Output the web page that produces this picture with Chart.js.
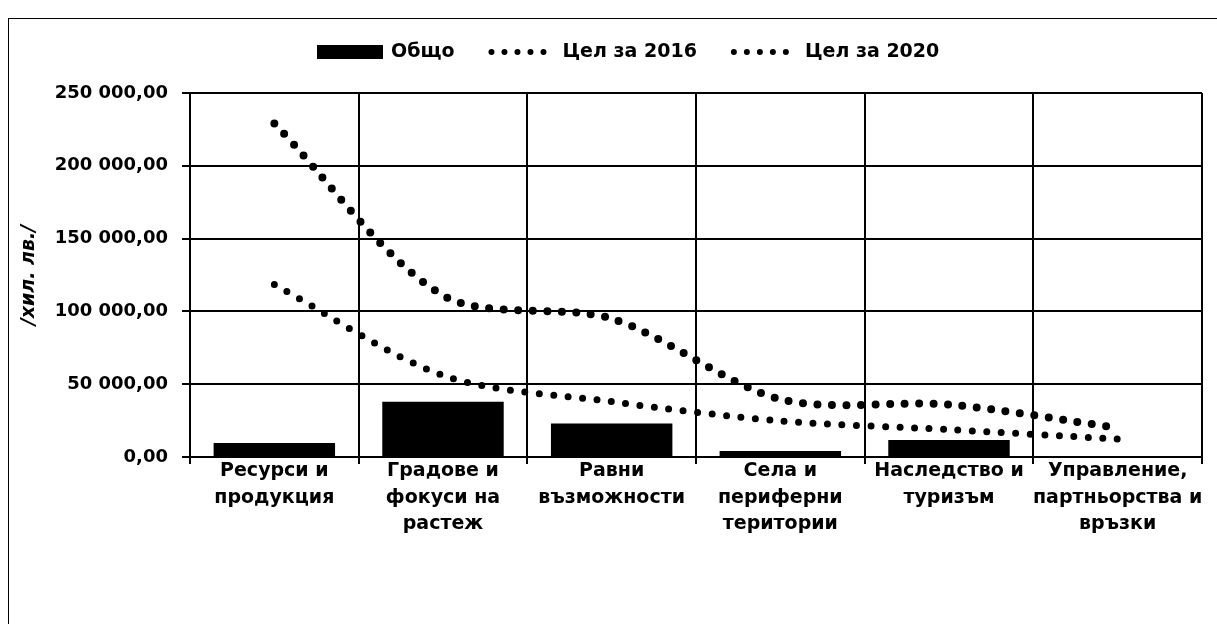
<!DOCTYPE html>
<html lang="bg">
<head>
<meta charset="utf-8">
<title>Общо и цели за 2016 и 2020</title>
<script src="https://cdn.jsdelivr.net/npm/chart.js@4.4.1/dist/chart.umd.min.js"></script>
<style>
  html, body { margin: 0; padding: 0; background: #fff; }
  #wrap { position: relative; width: 1217px; height: 624px; overflow: hidden; }
  #frame { position: absolute; left: 8px; top: 18px; right: -5px; bottom: -5px;
           border-left: 1.5px solid #000; border-top: 1.5px solid #000; }
  #chart { position: absolute; left: 0; top: 0; }
</style>
</head>
<body>
<div id="wrap">
  <div id="frame"></div>
  <canvas id="chart" width="1217" height="624"></canvas>
</div>
<script>
// Данни
const categories = [
    ['Ресурси и', 'продукция'],
    ['Градове и', 'фокуси на', 'растеж'],
    ['Равни', 'възможности'],
    ['Села и', 'периферни', 'територии'],
    ['Наследство и', 'туризъм'],
    ['Управление,', 'партньорства и', 'връзки']
];
const totalValues = [9600, 37900, 23000, 4100, 11600, 0];
const target2016 = [118500, 56000, 38000, 24800, 18800, 12300];
const target2020 = [229000, 111000, 95000, 39700, 36000, 20000];
const yTickValues = [0, 50000, 100000, 150000, 200000, 250000];

const FONT = 'DejaVu Sans';

// 250000 -> "250 000,00"
function formatBg(v) {
    const parts = v.toFixed(2).split('.');
    return parts[0].replace(/\B(?=(\d{3})+(?!\d))/g, ' ') + ',' + parts[1];
}

// Легенда с точки, както в оригинала
const dotLegend = {
    id: 'dotLegend',
    afterDraw(chart) {
        const ctx = chart.ctx;
        const y = 52;
        let x = 317;
        ctx.save();
        ctx.font = 'bold 19px "' + FONT + '"';
        ctx.textBaseline = 'middle';
        ctx.fillStyle = '#000';
        ctx.strokeStyle = '#000';
        chart.data.datasets.forEach(ds => {
            if (ds.type === 'line') {
                ctx.beginPath();
                ctx.setLineDash([0, 13]);
                ctx.lineCap = 'round';
                ctx.lineWidth = 6;
                ctx.moveTo(x + 3, y);
                ctx.lineTo(x + 68, y);
                ctx.stroke();
                ctx.setLineDash([]);
            } else {
                ctx.fillRect(x, y - 7, 66, 14);
            }
            x += 74;
            ctx.fillText(ds.label, x, y);
            x += ctx.measureText(ds.label).width + 34;
        });
        ctx.restore();
    }
};

const ctx = document.getElementById('chart').getContext('2d');
new Chart(ctx, {
    type: 'bar',
    data: {
        labels: categories,
        datasets: [
            {
                type: 'bar',
                label: 'Общо',
                data: totalValues,
                backgroundColor: '#000',
                order: 2
            },
            {
                type: 'line',
                label: 'Цел за 2016',
                data: target2016,
                borderColor: '#000',
                borderWidth: 7,
                borderDash: [0, 14.5],
                borderCapStyle: 'round',
                pointRadius: 0,
                tension: 0.3,
                fill: false,
                order: 1
            },
            {
                type: 'line',
                label: 'Цел за 2020',
                data: target2020,
                borderColor: '#000',
                borderWidth: 8,
                borderDash: [0, 14.5],
                borderCapStyle: 'round',
                pointRadius: 0,
                tension: 0.3,
                fill: false,
                order: 1
            }
        ]
    },
    options: {
        responsive: false,
        animation: false,
        layout: { padding: { top: 93, right: 15, left: 0, bottom: 0 } },
        plugins: {
            legend: { display: false },
            tooltip: { enabled: false }
        },
        scales: {
            x: {
                grid: { color: '#000', lineWidth: 2, tickLength: 7, offset: true },
                border: { color: '#000', width: 2 },
                ticks: {
                    color: '#000',
                    font: { family: FONT, size: 19, weight: 'bold', lineHeight: 1.4 },
                    padding: -6,
                    maxRotation: 0,
                    autoSkip: false
                },
                afterFit: s => { s.height = 167; }
            },
            y: {
                min: 0,
                max: 250000,
                afterBuildTicks: s => { s.ticks = yTickValues.map(v => ({ value: v })); },
                grid: { color: '#000', lineWidth: 2, tickLength: 8 },
                border: { color: '#000', width: 2 },
                ticks: {
                    color: '#000',
                    font: { family: FONT, size: 18, weight: 'bold' },
                    padding: 14,
                    callback: v => formatBg(v)
                },
                title: {
                    display: true,
                    text: '/хил. лв./',
                    color: '#000',
                    font: { family: FONT, size: 19, weight: 'bold', style: 'italic' },
                    padding: { top: 18 }
                },
                afterFit: s => { s.width = 190; }
            }
        }
    },
    plugins: [dotLegend]
});
</script>
</body>
</html>
